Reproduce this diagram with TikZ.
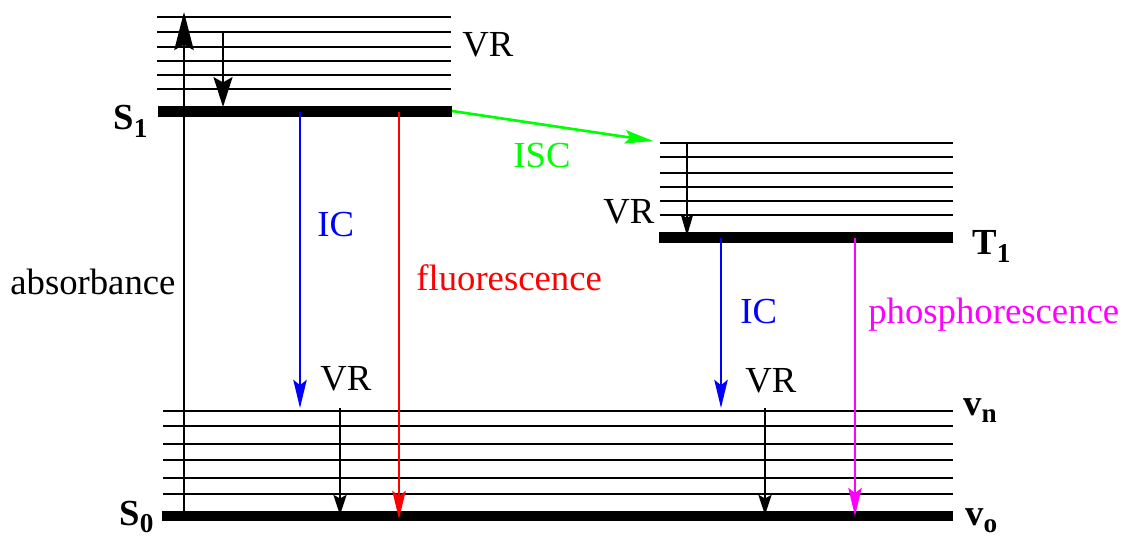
\documentclass[tikz,border=0pt]{standalone}
\usepackage{fontspec}
\setmainfont{Liberation Serif}
\usetikzlibrary{arrows.meta,positioning}
\definecolor{icblue}{RGB}{0,0,255}
\definecolor{fluored}{RGB}{255,0,0}
\definecolor{iscgreen}{RGB}{0,255,0}
\definecolor{phosmagenta}{RGB}{255,0,255}
\newcommand{\statelbl}[2]{\textbf{#1}\raisebox{-4.5pt}{\fontsize{15.5}{16}\selectfont\textbf{#2}}}

\begin{document}
\begin{tikzpicture}[x=0.02cm, y=-0.02cm,
  every node/.style={font=\fontsize{20.9}{25}\selectfont, inner sep=0pt, anchor=base west},
  level/.style={line width=1pt},
  groundlevel/.style={line width=5.7pt},
  transition/.style={line width=1.5pt, -{Stealth[length=16pt, width=7.6pt, inset=3pt]}},
  vrbig/.style={line width=1.5pt, -{Stealth[length=17pt, width=10.8pt, inset=3pt]}},
  vrsmall/.style={line width=1.5pt, -{Stealth[length=11.4pt, width=7.4pt, inset=2pt]}}]
 \useasboundingbox (0,0) rectangle (1125,540);
 % vibrational levels
 \foreach \y in {17,32,47,61,75,89} \draw[level] (157,\y) -- (451,\y);
 \foreach \y in {143,157,173,187,201,215} \draw[level] (660,\y) -- (953,\y);
 \foreach \y in {411,426,444,460,478,494} \draw[level] (163,\y) -- (953,\y);
 \draw[groundlevel] (158,111.5) -- (452,111.5);
 \draw[groundlevel] (659,237.5) -- (953,237.5);
 \draw[groundlevel] (162,516) -- (953,516);
 % end points
 \coordinate (absfrom) at (184,512);
 \coordinate (absto) at (184,12);
 \coordinate (vrsfrom) at (223,32);
 \coordinate (vrsto) at (223,107);
 \coordinate (icfrom) at (300,112);
 \coordinate (icto) at (300,408);
 \coordinate (flfrom) at (399,112);
 \coordinate (flto) at (399,519);
 \coordinate (iscfrom) at (452,111);
 \coordinate (iscto) at (653,141);
 \coordinate (vrtfrom) at (687,143);
 \coordinate (vrtto) at (687,236);
 \coordinate (ictfrom) at (721,238);
 \coordinate (ictto) at (721,408);
 \coordinate (phfrom) at (855,238);
 \coordinate (phto) at (855,516);
 \coordinate (vrafrom) at (340,408);
 \coordinate (vrato) at (340,515);
 \coordinate (vrbfrom) at (765,408);
 \coordinate (vrbto) at (765,515);
 % transitions
 \draw[line width=1.5pt, -{Stealth[length=21.6pt, width=11pt, inset=3pt]}] (absfrom) -- (absto);
 \draw[vrbig] (vrsfrom) -- (vrsto);
 \draw[transition, icblue] (icfrom) -- (icto);
 \draw[transition, fluored] (flfrom) -- (flto);
 \draw[transition, iscgreen] (iscfrom) -- (iscto);
 \draw[line width=1.5pt, -{Stealth[length=12.3pt, width=7pt, inset=2pt]}] (vrtfrom) -- (vrtto);
 \draw[transition, icblue] (ictfrom) -- (ictto);
 \draw[transition, phosmagenta] (phfrom) -- (phto);
 \draw[vrsmall] (vrafrom) -- (vrato);
 \draw[vrsmall] (vrbfrom) -- (vrbto);
 % labels
 \node (s1) at (113,130) {\statelbl{S}{1}};
 \node (t1) at (972,255) {\statelbl{T}{1}};
 \node (s0) at (119,525) {\statelbl{S}{0}};
 \node (vn) at (963,415) {\statelbl{v}{n}};
 \node (vo) at (965,525) {\statelbl{v}{o}};
 \node (vrs) at (462,57) {VR};
 \node (vrt) at (603,224) {VR};
 \node (vra) at (320,390) {VR};
 \node (vrb) at (745,392) {VR};
 \node[icblue] (ic) at (317,237) {IC};
 \node[icblue] (ict) at (740,323) {IC};
 \node[iscgreen] (isc) at (513,168) {ISC};
 \node (abs) at (10,295) {absorbance};
 \node[fluored] (fl) at (416,291) {fluorescence};
 \node[phosmagenta] (ph) at (868,323) {phosphorescence};
\end{tikzpicture}
\end{document}
